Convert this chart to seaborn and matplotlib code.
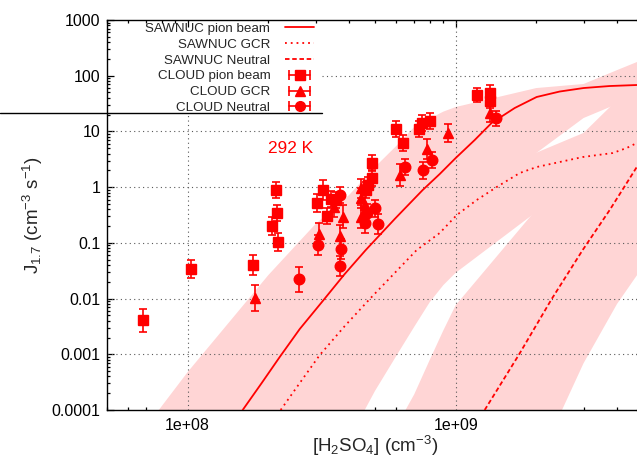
import math
import matplotlib
matplotlib.use("Agg")
import matplotlib.pyplot as plt
import seaborn as sns
import pandas as pd
from matplotlib.lines import Line2D
from matplotlib.legend_handler import HandlerLine2D
from matplotlib.ticker import FixedLocator, FixedFormatter, LogLocator, NullFormatter

sns.set_theme(style="ticks")
plt.rcParams['font.family'] = ['Liberation Sans', 'DejaVu Sans']
plt.rcParams['mathtext.default'] = 'regular'

RED = '#ff0000'
PINK = '#ffd5d5'
FS = 9.6        # legend text
TICK_FS = 11.5
LABEL_FS = 13.5

# SAWNUC model curves
pion_line_x = [1.604e8, 1.888e8, 2.204e8, 2.618e8, 3.19e8, 3.853e8, 4.617e8, 5.92e8, 7.53e8,
               8.717e8, 1.0e9, 1.1775e9, 1.362e9, 1.66e9, 2.005e9, 2.443e9, 3.0e9, 3.755e9, 4.74e9]
pion_line_y = [1e-4, 3.04e-4, 8.91e-4, 2.835e-3, 9.02e-3, 0.02754, 0.0743, 0.2676, 0.887,
               1.719, 3.33, 7.01, 14.2, 26.3, 41.5, 52.0, 60.1, 65.3, 68.1]
gcr_line_x = [2.223e8, 2.618e8, 3.109e8, 3.853e8, 4.776e8, 5.82e8, 7.152e8, 8.717e8, 1.009e9,
              1.198e9, 1.422e9, 1.733e9, 2.005e9, 2.443e9, 2.977e9, 3.853e9, 4.345e9, 4.74e9]
gcr_line_y = [1e-4, 3.04e-4, 9.67e-4, 3.2e-3, 9.8e-3, 0.0264, 0.0743, 0.150, 0.3155,
              0.587, 1.004, 1.791, 2.296, 2.823, 3.47, 4.095, 5.04, 6.19]
neutral_line_x = [1.283e9, 1.718e9, 2.281e9, 2.977e9, 3.755e9, 4.74e9]
neutral_line_y = [1e-4, 9.67e-4, 9.8e-3, 0.0743, 0.388, 2.296]

# uncertainty bands of the model curves
band_x = [5e7, 1e8, 2e8, 3e8, 4e8, 5e8, 6e8, 7e8, 8e8, 9e8, 1e9, 2e9, 3e9, 4e9, 5e9]
pion_band_hi = [6e-6, 4.8e-4, 0.0264, 0.218, 0.721, 2.3, 5.47, 12.0, 17.0, 22.7, 27.4, 60.1, 71, 126, 195]
pion_band_lo = [1e-7, 1e-7, 1e-7, 1e-5, 3e-4, 1.6e-3, 5e-3, 0.012, 0.025, 0.05, 0.095, 4.1, 17.4, 31, 45]
gcr_band_hi = [1e-7, 1e-5, 1e-3, 0.01, 0.04, 0.1, 0.2, 0.4, 0.7, 1.1, 2.0, 4.15, 9.4, 36.6, 100]
gcr_band_lo = [1e-7, 1e-7, 1e-7, 1e-6, 3e-5, 2.2e-4, 9.3e-4, 3.1e-3, 8.6e-3, 0.0175, 0.029, 0.36, 1.0, 2.0, 3.0]
neutral_band_hi = [1e-7, 1e-7, 1e-7, 1e-7, 1e-7, 1e-7, 5e-5, 1.9e-4, 7.9e-4, 2.7e-3, 7.6e-3, 0.40, 3.0, 8.0, 15.0]
neutral_band_lo = [1e-8, 1e-8, 1e-8, 1e-8, 1e-8, 1e-8, 1e-8, 1e-8, 1e-8, 1e-8, 1e-8, 1e-5, 6.9e-4, 8e-3, 0.0376]

# CLOUD measurements
cloud_pion_x = [6.79e7, 1.03e8, 1.75e8, 2.13e8, 2.16e8, 2.07e8, 2.17e8, 3.05e8, 3.21e8, 3.30e8,
                3.42e8, 3.57e8, 4.86e8, 4.86e8, 4.70e8, 4.62e8, 6.01e8, 6.36e8, 7.30e8, 7.51e8,
                8.04e8, 1.205e9, 1.348e9, 1.34e9]
cloud_pion_y = [0.0041, 0.0334, 0.040, 0.887, 0.347, 0.203, 0.105, 0.518, 0.887, 0.303,
                0.611, 0.586, 2.71, 1.46, 1.09, 0.887, 10.9, 6.11, 11.0, 14.3,
                15.6, 45.0, 49.5, 35.6]
cloud_pion_err = [1.6, 1.45, 1.5, 1.4, 1.4, 1.45, 1.45, 1.45, 1.5, 1.4,
                  1.4, 1.4, 1.4, 1.4, 1.4, 1.4, 1.4, 1.4, 1.4, 1.4,
                  1.4, 1.35, 1.35, 1.35]
cloud_gcr_x = [1.78e8, 3.08e8, 3.69e8, 3.80e8, 3.51e8, 4.45e8, 4.45e8, 4.45e8, 4.57e8, 6.18e8,
               7.83e8, 9.36e8, 1.34e9]
cloud_gcr_y = [0.0101, 0.142, 0.132, 0.294, 0.44, 0.952, 0.637, 0.294, 0.478, 1.65,
               4.83, 9.25, 21.1]
cloud_gcr_err = [1.7, 1.6, 1.6, 1.6, 1.5, 1.5, 1.5, 1.6, 1.5, 1.6, 1.5, 1.45, 1.45]
cloud_neutral_x = [2.60e8, 3.075e8, 3.746e8, 3.71e8, 3.69e8, 4.99e8, 4.65e8, 4.58e8, 5.13e8, 6.45e8,
                   7.55e8, 8.17e8, 1.419e9]
cloud_neutral_y = [0.0221, 0.0913, 0.0774, 0.0384, 0.721, 0.416, 0.343, 0.224, 0.218, 2.27,
                   2.0, 3.06, 17.2]
cloud_neutral_err = [1.65, 1.5, 1.5, 1.5, 1.4, 1.4, 1.45, 1.5, 1.5, 1.4, 1.4, 1.4, 1.35]

y_ticks = [1e-4, 1e-3, 1e-2, 1e-1, 1, 10, 100, 1000]
y_labels = ['0.0001', '0.001', '0.01', '0.1', '1', '10', '100', '1000']
x_ticks = [1e8, 1e9]
x_labels = ['1e+08', '1e+09']
x_range = (5e7, 5e9)
y_range = (1e-4, 1e3)

fig = plt.figure(figsize=(6.37, 4.62), dpi=100)
ax = fig.add_axes([107 / 637, 52 / 462, 536 / 637, 390 / 462])
ax.set_xscale('log')
ax.set_yscale('log')

# bands
for lo, hi in [(pion_band_lo, pion_band_hi), (gcr_band_lo, gcr_band_hi),
               (neutral_band_lo, neutral_band_hi)]:
    ax.fill_between(band_x, lo, hi, color=PINK, lw=0, zorder=1)

# model lines
curves = pd.concat([
    pd.DataFrame({'x': pion_line_x, 'y': pion_line_y, 'model': 'SAWNUC pion beam'}),
    pd.DataFrame({'x': gcr_line_x, 'y': gcr_line_y, 'model': 'SAWNUC GCR'}),
    pd.DataFrame({'x': neutral_line_x, 'y': neutral_line_y, 'model': 'SAWNUC Neutral'}),
])
line_styles = {'SAWNUC pion beam': '-', 'SAWNUC GCR': (0, (1, 2.2)), 'SAWNUC Neutral': (0, (2.5, 1.5))}
for name, grp in curves.groupby('model', sort=False):
    sns.lineplot(data=grp, x='x', y='y', ax=ax, color=RED, lw=1.3, linestyle=line_styles[name],
                 sort=False, estimator=None, legend=False, zorder=3)

# measurements
points = [(cloud_pion_x, cloud_pion_y, cloud_pion_err, 's', 7.4),
          (cloud_gcr_x, cloud_gcr_y, cloud_gcr_err, '^', 7.2),
          (cloud_neutral_x, cloud_neutral_y, cloud_neutral_err, 'o', 7.6)]
for xs, ys, fs, mk, ms in points:
    lo = [y - y / f for y, f in zip(ys, fs)]
    hi = [y * f - y for y, f in zip(ys, fs)]
    ax.errorbar(xs, ys, yerr=[lo, hi], fmt=mk, color=RED, ms=ms, mec=RED,
                elinewidth=1.2, capsize=3.2, capthick=1.2, zorder=4)

ax.text(2.0e8, 5.0, '292 K', color=RED, fontsize=12.4, va='center', ha='left')

ax.set_xlim(*x_range)
ax.set_ylim(*y_range)
ax.xaxis.set_major_locator(FixedLocator(x_ticks))
ax.xaxis.set_major_formatter(FixedFormatter(x_labels))
ax.xaxis.set_minor_locator(LogLocator(base=10, subs=range(2, 10)))
ax.xaxis.set_minor_formatter(NullFormatter())
ax.yaxis.set_major_locator(FixedLocator(y_ticks))
ax.yaxis.set_major_formatter(FixedFormatter(y_labels))
ax.yaxis.set_minor_locator(LogLocator(base=10, subs=range(2, 10)))
ax.yaxis.set_minor_formatter(NullFormatter())
ax.tick_params(which='both', direction='in', top=True, right=True, colors='black',
               labelsize=TICK_FS, width=0.9)
ax.tick_params(which='major', length=5)
ax.tick_params(which='minor', length=2.5)
ax.tick_params(axis='x', which='major', pad=5.5)
ax.tick_params(axis='y', which='major', pad=4.5)
for s in ax.spines.values():
    s.set_color('black')
    s.set_linewidth(1.0)

ax.set_xlabel('[H$_2$SO$_4$] (cm$^{-3}$)', fontsize=LABEL_FS, labelpad=1)
ax.set_ylabel('J$_{1.7}$ (cm$^{-3}$ s$^{-1}$)', fontsize=LABEL_FS, labelpad=5)

# key area (axes fraction): grid lines stop at it, a rule runs along its bottom
key_h = 93 / 390
key_w = 215 / 536


def frac(v, rng):
    return (math.log10(v) - math.log10(rng[0])) / (math.log10(rng[1]) - math.log10(rng[0]))


grid_kw = dict(color='0.35', linestyle=(0, (1, 3)), lw=0.8, zorder=1.5)
for yt in y_ticks[1:-1]:
    ax.axhline(yt, xmin=key_w if frac(yt, y_range) > 1 - key_h else 0, **grid_kw)
for xt in x_ticks:
    ax.axvline(xt, ymax=1 - key_h if frac(xt, x_range) < key_w else 1, **grid_kw)
ax.plot([-107 / 536, key_w], [1 - key_h, 1 - key_h], transform=ax.transAxes,
        color='black', lw=1.0, clip_on=False, zorder=2.6)

# legend, gnuplot style (text first, sample after)
cap_handles = [Line2D([], [], color=RED, lw=1.2, marker='|', ms=7, mew=1.2) for _ in range(3)]
mark_handles = [Line2D([], [], color=RED, ls='none', marker=m, ms=7) for m in ['s', '^', 'o']]
handles = [Line2D([], [], color=RED, lw=1.3, ls=line_styles['SAWNUC pion beam']),
           Line2D([], [], color=RED, lw=1.3, ls=line_styles['SAWNUC GCR']),
           Line2D([], [], color=RED, lw=1.3, ls=line_styles['SAWNUC Neutral'])]
handles += [(c, m) for c, m in zip(cap_handles, mark_handles)]
labels = ['SAWNUC pion beam', 'SAWNUC GCR', 'SAWNUC Neutral',
          'CLOUD pion beam', 'CLOUD GCR', 'CLOUD Neutral']
leg = ax.legend(handles, labels, loc='upper right', bbox_to_anchor=(208 / 536, 1 - 2 / 390),
                markerfirst=False, fontsize=FS, frameon=False, borderaxespad=0,
                borderpad=0.05, labelspacing=0.26, handlelength=2.2, handletextpad=1.1,
                handler_map={c: HandlerLine2D(numpoints=2) for c in cap_handles})

fig.savefig('out.png', dpi=100)
